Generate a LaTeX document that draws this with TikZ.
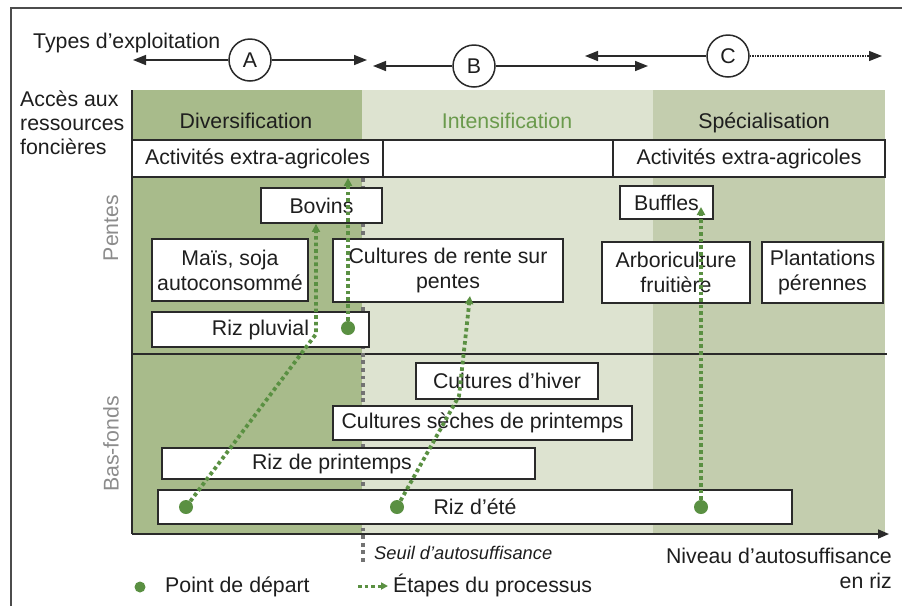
\documentclass[tikz,border=0pt]{standalone}
\usepackage{fontspec}
\setmainfont{Liberation Sans}
\usetikzlibrary{arrows.meta}
\definecolor{divcol}{HTML}{A8BB8B}
\definecolor{intcol}{HTML}{DDE3D0}
\definecolor{speccol}{HTML}{C3CDAE}
\definecolor{grn}{HTML}{5A9042}
\definecolor{intext}{HTML}{6A9A4C}
\definecolor{graytxt}{HTML}{8C8C8C}
\definecolor{seuilcol}{HTML}{737373}
\definecolor{edgecol}{HTML}{2A2A2A}
\definecolor{txtcol}{HTML}{1E1E1E}
\begin{document}
\begin{tikzpicture}[x=1pt,y=-1pt,
  every node/.style={font=\fontsize{21.3}{25}\selectfont, text=txtcol, inner sep=0pt},
  box/.style={draw=edgecol, line width=1.8pt, fill=white, align=center},
  circ/.style={draw=edgecol, line width=1.5pt, circle, minimum size=42pt, fill=white},
  toparrow/.style={line width=1.5pt, draw=edgecol, -{Triangle[length=13pt,width=10pt]}},
  steparrow/.style={draw=grn, line width=3.8pt, dash pattern=on 3.6pt off 3pt, -{Triangle[length=8pt,width=8pt]}},
  startdot/.style={circle, fill=grn, minimum size=14pt},
  axisline/.style={draw=edgecol, line width=1.7pt},
]
\useasboundingbox (0,0) rectangle (902,606);
\fill[white] (0,0) rectangle (902,606);
% frame
\draw[gray!60!black, line width=1.5pt] (11,606) -- (11,8) -- (902,8);

% columns
\fill[divcol] (132,90) rectangle (362,534);
\fill[intcol] (362,90) rectangle (653,534);
\fill[speccol] (653,90) rectangle (885,534);

% axes
\coordinate (ytop) at (132,90);
\coordinate (origin) at (132,534);
\coordinate (xend) at (889,534);
\draw[axisline] (ytop) -- (origin);
\draw[axisline, -{Triangle[length=11pt,width=9pt]}] (origin) -- (xend);
\coordinate (divl) at (132,354);
\coordinate (divr) at (887,354);
\draw[axisline] (divl) -- (divr);

% seuil line
\coordinate (s1) at (363,178);
\coordinate (s2) at (363,562);
\draw[seuilcol, line width=4.5pt, dash pattern=on 3.8pt off 3.8pt] (s1) -- (s2);

% top row boxes
\node[box, minimum width=251pt, minimum height=37pt] (act1) at (257.5,158.5) {Activités extra-agricoles};
\node[box, minimum width=230pt, minimum height=37pt] (actmid) at (498,158.5) {};
\node[box, minimum width=272pt, minimum height=37pt] (act2) at (749,158.5) {Activités extra-agricoles};

% Pentes boxes
\node[box, minimum width=121pt, minimum height=35pt] (bovins) at (321.5,205.5) {Bovins};
\node[box, minimum width=156pt, minimum height=62pt] (mais) at (230,270) {Maïs, soja\\autoconsommé};
\node[box, minimum width=230pt, minimum height=63pt] (rente) at (448,270.5) {Cultures de rente sur\\pentes};
\node[box, minimum width=217pt, minimum height=35pt] (pluvial) at (260.5,329.5) {Riz pluvial};
\node[box, minimum width=93pt, minimum height=33pt] (buffles) at (666.5,202.5) {Buffles};
\node[box, minimum width=148pt, minimum height=61pt] (arbo) at (676,272.5) {Arboriculture\\fruitière};
\node[box, minimum width=121pt, minimum height=61pt] (plant) at (822.5,272.5) {Plantations\\pérennes};

% Bas-fonds boxes
\node[box, minimum width=182pt, minimum height=36pt] (hiver) at (507,381) {Cultures d’hiver};
\node[box, minimum width=299pt, minimum height=34pt] (seches) at (482.5,423) {Cultures sèches de printemps};
\node[box, minimum width=373pt, minimum height=31pt] (rizprin) at (348.5,463.5) {};
\node (rizprintxt) at (332,463.5) {Riz de printemps};
\node[box, minimum width=634pt, minimum height=34pt] (ete) at (475,507) {Riz d’été};

% start dots
\node[startdot] (d1) at (348,328) {};
\node[startdot] (d2) at (186,507) {};
\node[startdot] (d3) at (397,507) {};
\node[startdot] (d4) at (701,507) {};

% process steps
\draw[steparrow] (d1) -- (d1 |- act1.south);
\coordinate (k2) at (316,334);
\draw[steparrow] (d2) -- (k2) -- (k2 |- bovins.south);
\coordinate (k3) at (459,396);
\coordinate (t3) at (470,296);
\draw[steparrow] (d3) -- (k3) -- (t3);
\coordinate (t4) at (701,207);
\draw[steparrow] (d4) -- (t4);

% headers
\node[anchor=base] (hdiv) at (246,128) {Diversification};
\node[anchor=base, text=intext] (hint) at (507,128) {Intensification};
\node[anchor=base] (hspe) at (764,128) {Spécialisation};

% left labels
\node[anchor=base west] (types) at (33,48) {Types d’exploitation};
\node[anchor=base west] (acc1) at (20,106) {Accès aux};
\node[anchor=base west] (acc2) at (20,130) {ressources};
\node[anchor=base west] (acc3) at (20,154) {foncières};
\node[rotate=90, text=graytxt] (pentes) at (111,228) {Pentes};
\node[rotate=90, text=graytxt] (basfonds) at (111,444) {Bas-fonds};

% top arrows
\node[circ] (A) at (250,60) {A};
\coordinate (Al) at (133,60);
\coordinate (Ar) at (367,60);
\draw[toparrow] (A) -- (Al);
\draw[toparrow] (A) -- (Ar);
\node[circ] (B) at (474,66) {B};
\coordinate (Bl) at (373,66);
\coordinate (Br) at (648,66);
\draw[toparrow] (B) -- (Bl);
\draw[toparrow] (B) -- (Br);
\node[circ] (C) at (728,56) {C};
\coordinate (Cl) at (585,56);
\coordinate (Cr) at (882,56);
\draw[toparrow] (C) -- (Cl);
\draw[toparrow, densely dotted, line width=1.2pt] (C) -- (Cr);

% axis labels
\node[anchor=base west, font=\fontsize{18.3}{22}\selectfont\itshape] (seuil) at (374,559) {Seuil d’autosuffisance};
\node[anchor=base east] (niv1) at (892,563) {Niveau d’autosuffisance};
\node[anchor=base east] (niv2) at (892,588) {en riz};

% legend
\node[startdot, minimum size=11pt] (ldot) at (140,587) {};
\node[anchor=base west] (lpt) at (165,592) {Point de départ};
\coordinate (la1) at (358,586);
\coordinate (la2) at (388,586);
\draw[steparrow, line width=3pt, -{Triangle[length=7pt,width=7pt]}] (la1) -- (la2);
\node[anchor=base west] (let) at (393,592) {Étapes du processus};
\end{tikzpicture}
\end{document}
